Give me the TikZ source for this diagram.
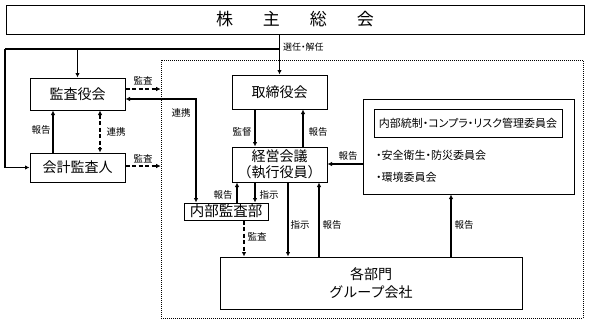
\documentclass[tikz,border=0pt]{standalone}
\usepackage{fontspec}
\setmainfont{Noto Sans CJK JP}
\newfontfamily\propjp[RawFeature=+palt]{Noto Sans CJK JP}
\usetikzlibrary{arrows.meta,calc}
\tikzset{
  box/.style={draw, line width=1pt, inner sep=0pt, font=\fontsize{14}{17}\selectfont},
  lbl/.style={inner sep=0pt, font=\fontsize{9.5}{11}\selectfont},
  item/.style={anchor=west, inner sep=0pt, font=\propjp\fontsize{11}{12}\selectfont},
  arr/.style={line width=1.5pt, -{Latex[length=4.5pt,width=4.5pt]}},
  biarr/.style={line width=1.5pt, {Latex[length=4.5pt,width=4.5pt]}-{Latex[length=4.5pt,width=4.5pt]}},
  darr/.style={arr, dash pattern=on 4pt off 2.5pt},
  dbiarr/.style={biarr, dash pattern=on 4pt off 2.5pt},
}

\begin{document}
\begin{tikzpicture}[x=1pt,y=-1pt]
        \useasboundingbox (0,0) rectangle (590,324);

        % Frame of the executive side
        \node[draw, line width=0.6pt, dash pattern=on 1pt off 1pt, inner sep=0pt,
              minimum width=422pt, minimum height=258pt] (frame) at (372,189) {};

        % Boxes
        \node[box, minimum width=578pt, minimum height=29pt, font=\fontsize{17}{20}\selectfont] (kabu) at (295,19.5)
            {株\hspace{30pt}主\hspace{30pt}総\hspace{30pt}会};
        \node[box, minimum width=95pt, minimum height=32pt] (kansa) at (77.5,94) {監査役会};
        \node[box, minimum width=95pt, minimum height=29pt] (kaikei) at (77.5,167.5) {会計監査人};
        \node[box, minimum width=95pt, minimum height=34pt] (tori) at (279.5,92) {取締役会};
        \node[box, minimum width=95pt, minimum height=35pt, align=center, font=\fontsize{14}{15.5}\selectfont] (keiei) at (279.5,164.5)
            {経営会議\\（執行役員）};
        \node[box, minimum width=84pt, minimum height=17pt, font=\fontsize{14.5}{17}\selectfont] (naibu) at (226,211.5) {内部監査部};
        \node[box, minimum width=302pt, minimum height=52pt, align=center, font=\fontsize{14}{18}\selectfont] (bumon) at (371,283)
            {各部門\\グループ会社};

        % Committees
        \node[box, minimum width=211pt, minimum height=95pt] (iinkai) at (468.5,146.5) {};
        \node[box, minimum width=188pt, minimum height=28pt, font=\propjp\fontsize{11}{12}\selectfont] (tousei) at (468,123)
            {内部統制・コンプラ・リスク管理委員会};
        \node[item] (anzen) at (376,155) {・安全衛生・防災委員会};
        \node[item] (kankyo) at (376,177) {・環境委員会};

        % From the shareholders
        \coordinate (split) at (279.5,49);
        \coordinate (rail) at (5,49);
        \draw[arr] (kabu.south -| tori.north) -- (tori.north);
        \draw[line width=1.5pt] (split) -- (rail);
        \draw[arr] (split -| kansa.north) -- (kansa.north);
        \draw[arr] (rail) |- (kaikei.west);
        \node[lbl, anchor=west, font=\propjp\fontsize{9}{10}\selectfont] at (283,47) {選任・解任};

        % Auditors
        \draw[darr] ([yshift=5pt]kansa.east) -- ([yshift=5pt]kansa.east -| frame.west);
        \node[lbl] at (143,81) {監査};
        \draw[darr] ([yshift=1.5pt]kaikei.east) -- ([yshift=1.5pt]kaikei.east -| frame.west);
        \node[lbl] at (143,159) {監査};
        \draw[biarr] ([yshift=-5pt]kansa.east) -| ([xshift=-30pt]naibu.north);
        \node[lbl] at (181,113) {連携};
        \draw[dbiarr] ([xshift=22.5pt]kansa.south) -- ([xshift=22.5pt]kaikei.north);
        \node[lbl] at (116,132) {連携};
        \draw[arr] ([xshift=-24.5pt]kaikei.north) -- ([xshift=-24.5pt]kansa.south);
        \node[lbl] at (41,130) {報告};

        % Board and management
        \draw[arr] ([xshift=-24.5pt]tori.south) -- ([xshift=-24.5pt]keiei.north);
        \node[lbl] at (242,132) {監督};
        \draw[arr] ([xshift=23.5pt]keiei.north) -- ([xshift=23.5pt]tori.south);
        \node[lbl] at (318,132) {報告};
        \draw[arr] ([yshift=-17.5pt]iinkai.west) -- ([yshift=-17.5pt]iinkai.west -| keiei.east);
        \node[lbl] at (348,156) {報告};

        % Internal audit
        \draw[arr] ([xshift=11pt]naibu.north) -- ([xshift=11pt]naibu.north |- keiei.south);
        \node[lbl] at (223,195) {報告};
        \draw[arr] ([xshift=-24.5pt]keiei.south) -- ([xshift=-24.5pt]keiei.south |- naibu.north);
        \node[lbl] at (269,195) {指示};
        \draw[darr] ([xshift=18pt]naibu.south) -- ([xshift=18pt]naibu.south |- bumon.north);
        \node[lbl] at (257,237) {監査};

        % Departments
        \draw[arr] ([xshift=8.5pt]keiei.south) -- ([xshift=8.5pt]keiei.south |- bumon.north);
        \node[lbl] at (300,225) {指示};
        \draw[arr] ([xshift=39.5pt]keiei.south |- bumon.north) -- ([xshift=39.5pt]keiei.south);
        \node[lbl] at (332,225) {報告};
        \draw[arr] ([xshift=80pt]bumon.north) -- ([xshift=80pt]bumon.north |- iinkai.south);
        \node[lbl] at (464,225) {報告};
\end{tikzpicture}
\end{document}
